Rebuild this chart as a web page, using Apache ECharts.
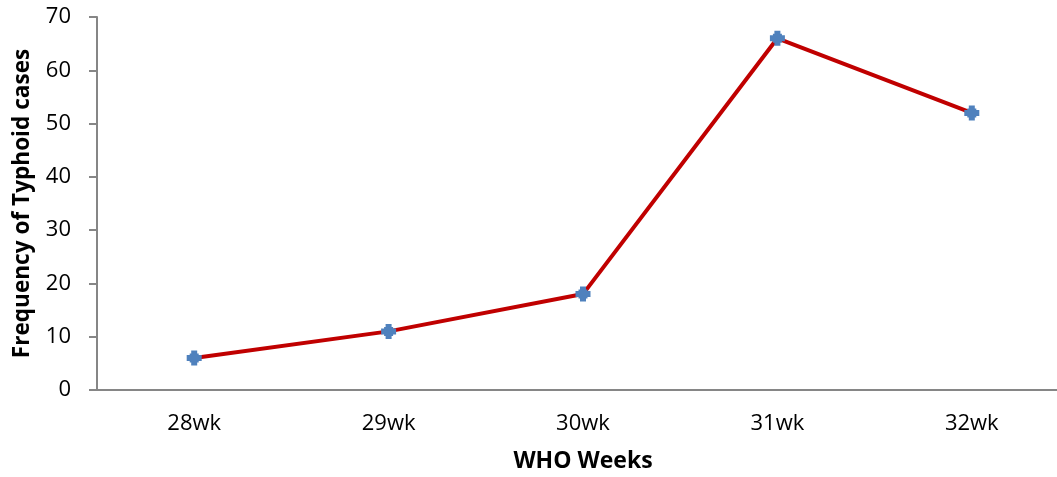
<!DOCTYPE html>
<html>
<head>
<meta charset="utf-8">
<script src="https://cdn.jsdelivr.net/npm/echarts@6/dist/echarts.min.js"></script>
<style>html,body{margin:0;padding:0;background:#fff;overflow:hidden;}#c{width:1057px;height:477px;}</style>
</head>
<body>
<div id="c"></div>
<script>
const categories = ['28wk', '29wk', '30wk', '31wk', '32wk'];
const cases = [6, 11, 18, 66, 52];
const yTicks = { min: 0, max: 70, interval: 10 };

const chart = echarts.init(document.getElementById('c'), null, { renderer: 'canvas' });
const font = '"Open Sans", "Liberation Sans", sans-serif';
chart.setOption({
  animation: false,
  backgroundColor: '#fff',
  grid: { left: 97, top: 17, bottom: 87, right: -12, containLabel: false, outerBoundsMode: 'none' },
  xAxis: {
    type: 'category',
    data: categories,
    boundaryGap: true,
    name: 'WHO Weeks',
    nameLocation: 'middle',
    nameGap: 60,
    nameTextStyle: { fontFamily: font, fontWeight: 'bold', fontSize: 23, color: '#000' },
    axisLine: { lineStyle: { color: '#868686', width: 2 } },
    axisTick: { show: false },
    axisLabel: { fontFamily: font, fontSize: 22, color: '#000', margin: 23 },
    splitLine: { show: false }
  },
  yAxis: {
    type: 'value',
    min: yTicks.min, max: yTicks.max, interval: yTicks.interval,
    name: 'Frequency of Typhoid cases',
    nameLocation: 'middle',
    nameGap: 63,
    nameRotate: 90,
    nameTextStyle: { fontFamily: font, fontWeight: 'bold', fontSize: 22.6, color: '#000' },
    axisLine: { show: true, lineStyle: { color: '#868686', width: 2 } },
    axisTick: { show: true, inside: false, length: 8, lineStyle: { color: '#868686', width: 2 } },
    axisLabel: { fontFamily: font, fontSize: 22, color: '#000', margin: 26 },
    splitLine: { show: false }
  },
  series: [{
    type: 'line',
    data: cases,
    lineStyle: { color: '#C00000', width: 4 },
    itemStyle: { color: '#4F81BD' },
    symbol: 'path://M3,0 L7,0 L7,2 L8,2 L8,3 L10,3 L10,7 L8,7 L8,8 L7,8 L7,10 L3,10 L3,8 L2,8 L2,7 L0,7 L0,3 L2,3 L2,2 L3,2 Z',
    symbolSize: 15,
    showSymbol: true,
    z: 3
  }]
});
</script>
</body>
</html>
